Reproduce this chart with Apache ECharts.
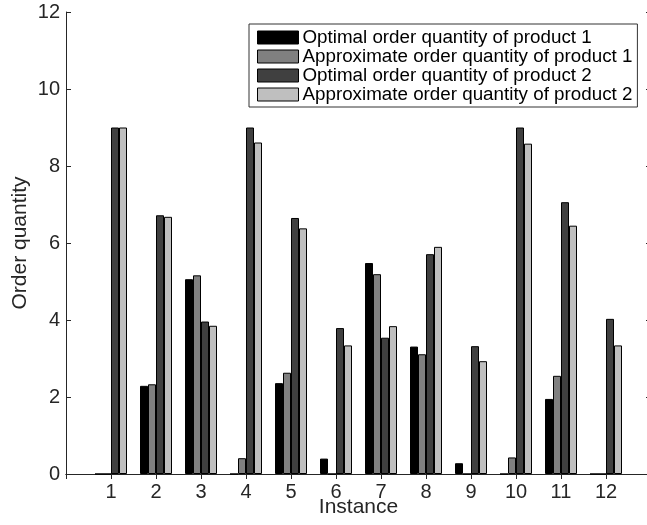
<!DOCTYPE html>
<html>
<head>
<meta charset="utf-8">
<script src="https://cdn.jsdelivr.net/npm/echarts@6/dist/echarts.min.js"></script>
<style>
  html, body { margin: 0; padding: 0; background: #fff; }
  #chart { width: 647px; height: 525px; }
</style>
</head>
<body>
<div id="chart"></div>
<script>
// Instances on the x axis
const instances = ['1', '2', '3', '4', '5', '6', '7', '8', '9', '10', '11', '12'];

// Order quantities per instance
const optimalP1 = [0, 2.29, 5.06, 0, 2.36, 0.40, 5.48, 3.31, 0.28, 0, 1.95, 0];
const approxP1  = [0, 2.33, 5.16, 0.41, 2.63, 0, 5.19, 3.11, 0, 0.43, 2.55, 0];
const optimalP2 = [9.00, 6.72, 3.96, 9.00, 6.65, 3.79, 3.54, 5.71, 3.32, 9.00, 7.06, 4.03];
const approxP2  = [9.00, 6.68, 3.85, 8.61, 6.38, 3.34, 3.84, 5.90, 2.93, 8.58, 6.45, 3.34];

const seriesNames = [
  'Optimal order quantity of product 1',
  'Approximate order quantity of product 1',
  'Optimal order quantity of product 2',
  'Approximate order quantity of product 2'
];
const seriesColors = ['#000000', '#808080', '#404040', '#bfbfbf'];

// x range runs from 0 to 13, so pad the category list with empty end slots
const cats = [''].concat(instances, ['']);
const pad = arr => [null].concat(arr, [null]);

const axisColor = '#262626';
const textColor = '#262626';
const font = 'Liberation Sans, Arial, sans-serif';

const chart = echarts.init(document.getElementById('chart'), null, { renderer: 'canvas' });

const makeBar = (name, values, color) => ({
  name: name,
  type: 'bar',
  xAxisIndex: 0,
  yAxisIndex: 0,
  data: pad(values),
  barWidth: 8,
  barGap: '0%',
  itemStyle: { color: color, borderColor: '#000', borderWidth: 1 },
  emphasis: { disabled: true },
  animation: false
});

chart.setOption({
  animation: false,
  backgroundColor: '#fff',
  textStyle: { fontFamily: font },
  // the box runs slightly past the right edge of the canvas
  grid: { left: 66, top: 12, width: 585, height: 462, containLabel: false, outerBoundsMode: 'none' },
  legend: {
    orient: 'vertical',
    left: 249,
    top: 24,
    padding: [4, 5, 3, 8],
    itemWidth: 41,
    itemHeight: 13,
    itemGap: 0,
    backgroundColor: '#fff',
    borderColor: '#333',
    borderWidth: 1,
    borderRadius: 0,
    icon: 'rect',
    selectedMode: false,
    itemStyle: { borderColor: '#000', borderWidth: 1 },
    textStyle: { fontSize: 18.8, color: '#000', fontFamily: font, lineHeight: 17.7, padding: [0, 0, 0, -1] },
    data: seriesNames
  },
  xAxis: [
    {
      type: 'category',
      data: cats,
      boundaryGap: false,
      position: 'bottom',
      name: 'Instance',
      nameLocation: 'middle',
      nameGap: 23,
      nameMoveOverlap: false,
      nameTextStyle: { fontSize: 21, color: textColor, fontFamily: font },
      axisLine: { show: true, lineStyle: { color: axisColor, width: 1 } },
      axisTick: { show: true, inside: true, length: 5, alignWithLabel: true, lineStyle: { color: axisColor } },
      axisLabel: { show: true, fontSize: 20, color: textColor, margin: 8, interval: 0, fontFamily: font },
      splitLine: { show: false }
    },
    {
      type: 'category',
      data: cats,
      boundaryGap: false,
      position: 'top',
      axisLine: { show: true, lineStyle: { color: axisColor, width: 1 } },
      axisTick: { show: true, inside: true, length: 5, interval: 0, lineStyle: { color: axisColor } },
      axisLabel: { show: false },
      splitLine: { show: false }
    }
  ],
  yAxis: [
    {
      type: 'value',
      min: 0,
      max: 12,
      interval: 2,
      position: 'left',
      name: 'Order quantity',
      nameLocation: 'middle',
      nameGap: 35,
      nameMoveOverlap: false,
      nameTextStyle: { fontSize: 21, color: textColor, fontFamily: font },
      axisLine: { show: true, lineStyle: { color: axisColor, width: 1 } },
      axisTick: { show: true, inside: true, length: 5, lineStyle: { color: axisColor } },
      axisLabel: { show: true, fontSize: 20, color: textColor, margin: 6, fontFamily: font },
      splitLine: { show: false }
    },
    {
      type: 'value',
      min: 0,
      max: 12,
      interval: 2,
      position: 'right',
      axisLine: { show: true, lineStyle: { color: axisColor, width: 1 } },
      axisTick: { show: true, inside: true, length: 5, lineStyle: { color: axisColor } },
      axisLabel: { show: false },
      splitLine: { show: false }
    }
  ],
  series: [
    makeBar(seriesNames[0], optimalP1, seriesColors[0]),
    makeBar(seriesNames[1], approxP1, seriesColors[1]),
    makeBar(seriesNames[2], optimalP2, seriesColors[2]),
    makeBar(seriesNames[3], approxP2, seriesColors[3])
  ]
});
</script>
</body>
</html>
